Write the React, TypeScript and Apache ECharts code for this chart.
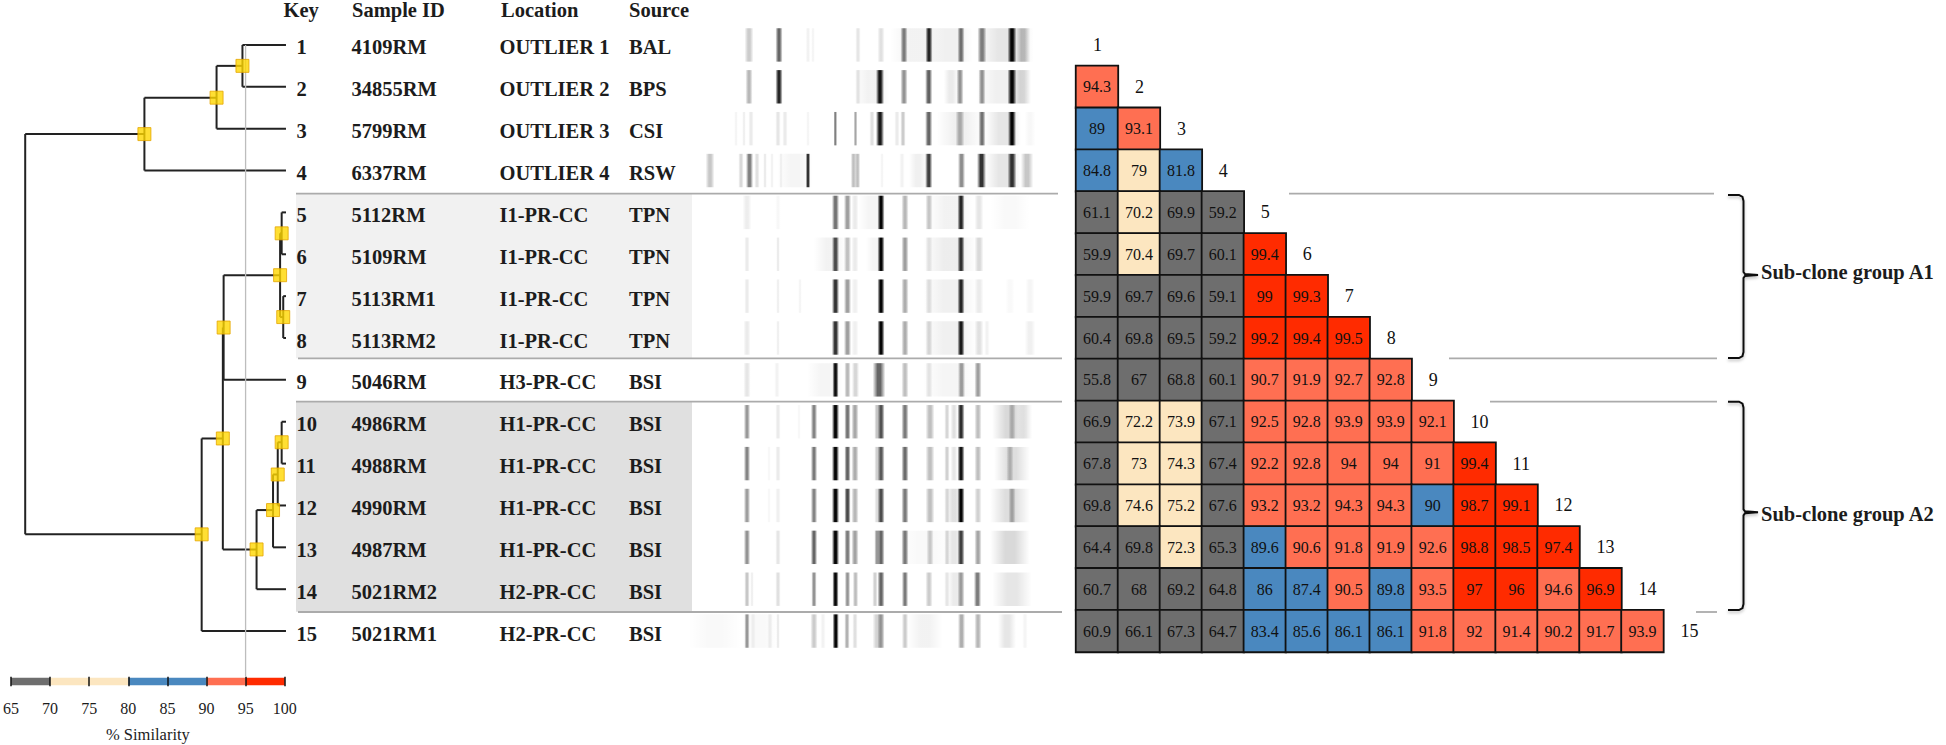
import React, { useEffect, useRef } from "react";
import * as echarts from "echarts";

const SERIF = "Liberation Serif";

const keys = ["1","2","3","4","5","6","7","8","9","10","11","12","13","14","15"];
const sampleIds = ["4109RM","34855RM","5799RM","6337RM","5112RM","5109RM","5113RM1","5113RM2","5046RM","4986RM","4988RM","4990RM","4987RM","5021RM2","5021RM1"];
const locations = ["OUTLIER 1","OUTLIER 2","OUTLIER 3","OUTLIER 4","I1-PR-CC","I1-PR-CC","I1-PR-CC","I1-PR-CC","H3-PR-CC","H1-PR-CC","H1-PR-CC","H1-PR-CC","H1-PR-CC","H2-PR-CC","H2-PR-CC"];
const sources = ["BAL","BPS","CSI","RSW","TPN","TPN","TPN","TPN","BSI","BSI","BSI","BSI","BSI","BSI","BSI"];

// lower triangle of the similarity matrix, row 2 to row 15
const similarity = [
  [94.3],
  [89, 93.1],
  [84.8, 79, 81.8],
  [61.1, 70.2, 69.9, 59.2],
  [59.9, 70.4, 69.7, 60.1, 99.4],
  [59.9, 69.7, 69.6, 59.1, 99, 99.3],
  [60.4, 69.8, 69.5, 59.2, 99.2, 99.4, 99.5],
  [55.8, 67, 68.8, 60.1, 90.7, 91.9, 92.7, 92.8],
  [66.9, 72.2, 73.9, 67.1, 92.5, 92.8, 93.9, 93.9, 92.1],
  [67.8, 73, 74.3, 67.4, 92.2, 92.8, 94, 94, 91, 99.4],
  [69.8, 74.6, 75.2, 67.6, 93.2, 93.2, 94.3, 94.3, 90, 98.7, 99.1],
  [64.4, 69.8, 72.3, 65.3, 89.6, 90.6, 91.8, 91.9, 92.6, 98.8, 98.5, 97.4],
  [60.7, 68, 69.2, 64.8, 86, 87.4, 90.5, 89.8, 93.5, 97, 96, 94.6, 96.9],
  [60.9, 66.1, 67.3, 64.7, 83.4, 85.6, 86.1, 86.1, 91.8, 92, 91.4, 90.2, 91.7, 93.9],
];

const GREY = "#6E6E6E", CREAM = "#FCE6C0", BLUE = "#4A88BF", SALMON = "#FF6F52", RED = "#FF2B00";
const colourBands: [number, number, string][] = [
  [65, 70, GREY], [70, 80, CREAM], [80, 90, BLUE], [90, 95, SALMON], [95, 100, RED],
];
const scaleTicks = [65, 70, 75, 80, 85, 90, 95, 100];

// dendrogram: [id, similarity at the node, row position, child A, child B]; numeric children are leaf rows
const dendroNodes: [string, number, number, string | number, string | number][] = [
  ["n12", 94.6, 1.5, 1, 2],
  ["n123", 91.3, 2.26, "n12", 3],
  ["n1234", 82.1, 3.13, "n123", 4],
  ["F", 99.6, 5.5, 5, 6],
  ["G", 99.8, 7.5, 7, 8],
  ["E", 99.4, 6.5, "F", "G"],
  ["D", 92.2, 7.75, "E", 9],
  ["K", 99.6, 10.49, 10, 11],
  ["J", 99.1, 11.26, "K", 12],
  ["I", 98.5, 12.11, "J", 13],
  ["H", 96.4, 13.05, "I", 14],
  ["C", 92.1, 10.4, "D", "H"],
  ["B", 89.4, 12.69, "C", 15],
  ["root", 66.9, 8, "n1234", "B"],
];
const leafEnd = 100.15;
const cutoff = 95;
const cutoffBottomRow = 16.08;

// gel lanes: each band is [migration position, width, darkness]
const gelLanes: number[][][] = [
  [[917,30,.05],[950,25,.06],[1005,32,.1],[749,5,.2],[779,4,.6],[808,2.5,.05],[813,2,.04],[858,3,.1],[881,4,.12],[904,4,.5],[929,4,.85],[961,4,.55],[982,5,.5],[1012,5,.98],[1023,8,.25]],
  [[872,20,.05],[1003,30,.06],[951,8,.08],[749,4,.28],[779,4,.85],[858,3,.1],[880,4.5,.92],[904,4,.42],[928.7,4,.62],[960,4,.42],[982,4,.42],[1012,5,.98],[1022,10,.15]],
  [[1003,20,.1],[960,26,.06],[736,2,.04],[744,2,.06],[751,3,.08],[778,3,.1],[785,3,.08],[808,2,.04],[835.3,2,.5],[855.5,2,.35],[872,3,.12],[880,4.5,.9],[897,3,.08],[903,3,.2],[928.7,4,.6],[960,5,.3],[982,4,.55],[1012,4.5,.98],[1030,6,.03]],
  [[795,20,.04],[918,10,.06],[1003,20,.1],[710,5,.22],[741,3,.15],[749.5,4,.5],[757,3,.12],[765,2,.08],[772,2,.05],[781,2,.05],[808,2.5,.8],[853.5,3,.25],[857.5,3,.25],[882,2,.04],[902,3,.05],[928.7,4,.75],[961.5,4,.45],[981.5,5,.8],[1012,5,.8],[1027,7,.22]],
  [[950,25,.05],[872,15,.04],[1010,22,.025],[747,5,.07],[778,3,.03],[835.5,4,.55],[847.5,4,.38],[855,4,.08],[881,4,.98],[905,4,.28],[929,4,.22],[961,4,.85],[979,5,.1]],
  [[950,30,.07],[830,18,.05],[875,10,.04],[747,3,.08],[778,2,.08],[835.5,4,.7],[847.5,4,.25],[855,4,.08],[881,4,.98],[905,4,.38],[929,4,.1],[961,4,.8],[979,5,.15]],
  [[950,30,.06],[747,3,.08],[778,2,.06],[800,2,.04],[835.5,4,.8],[847.5,4,.38],[855,4,.06],[881,4,.98],[905,4,.32],[929,4,.12],[961,4,.85],[979,5,.08],[1030,5,.04],[1010,5,.025]],
  [[950,30,.06],[747,4,.08],[778,2,.06],[835.5,4,.8],[847.5,4,.38],[855,4,.06],[881,4,.98],[905,4,.32],[929,4,.15],[961,4,.9],[979,5,.12],[987,3,.05],[1030,6,.06]],
  [[825,20,.04],[950,30,.04],[747,4,.1],[777,3,.05],[835.5,3.5,.95],[847.5,3.5,.28],[855.5,4,.16],[879,7,.6],[905,4,.25],[929,4,.1],[961.5,4,.38],[978,4,.38]],
  [[1010,20,.15],[747,3.5,.4],[778,3,.08],[799,2,.03],[814,3.5,.48],[835.5,4,.98],[847.5,3.5,.55],[855,4,.34],[877,3,.22],[881,4,.68],[905,4,.52],[930,5,.25],[947,3,.16],[954,4,.12],[961,4,.82],[978,4,.25],[1012,4,.22],[1025,8,.08]],
  [[1012,20,.13],[747,3.5,.48],[769,2,.03],[778,3,.08],[814,3.5,.52],[835.5,4,.98],[847.5,3.5,.62],[855,4,.32],[877,3,.18],[881,4,.65],[905,4,.58],[930,5,.25],[947,3,.18],[954,4,.1],[961,4,.92],[978,4,.25],[1010,4,.22]],
  [[1010,22,.13],[747,3.5,.38],[769,2,.03],[778,3,.06],[814,3.5,.48],[835.5,4,.98],[847.5,3.5,.72],[855,4,.28],[877,3,.13],[881,4,.7],[905,4,.52],[930,5,.25],[947,3,.15],[954,8,.12],[961,4,.98],[978,4,.18],[1012,4,.28]],
  [[1010,22,.15],[925,30,.025],[747,3.5,.42],[778,3,.1],[814,3.5,.6],[835.5,4,.98],[847.5,3.5,.52],[855,4,.36],[877,3,.4],[881,4,.6],[905,4,.52],[930,4,.2],[947,3,.15],[954,8,.1],[961,4,.75],[978,4,.35]],
  [[1012,22,.1],[747,3,.22],[752,2,.06],[778,3,.12],[814,3,.42],[835.5,3.5,.98],[847.5,3,.42],[855.5,3,.26],[875,3,.18],[881,4,.6],[905,3.5,.52],[929,4,.2],[947,3,.1],[955,8,.08],[961,4,.38],[977.5,4,.52]],
  [[715,30,.025],[760,20,.025],[925,20,.05],[1007,10,.1],[747,3,.4],[753,3,.05],[770,3,.06],[778,2,.08],[814,4,.2],[823,3,.05],[835.7,3.5,.98],[847,3,.3],[855,3,.12],[877,5,.17],[881,4,.4],[905,3.5,.2],[961.5,4,.32],[978,4,.28],[1025,3,.04]],
];

const headers: [string, number][] = [["Key", 283.5], ["Sample ID", 352], ["Location", 501], ["Source", 629]];
const groupLabels = ["Sub-clone group A1", "Sub-clone group A2"];

function textColumn(values: string[], x: number, fontSize: number, fontWeight: string) {
  return {
    type: "custom", coordinateSystem: "cartesian2d", xAxisIndex: 0, yAxisIndex: 0, silent: true, z: 6,
    data: values.map((_, i) => [x, i + 1]),
    renderItem: (p: any, api: any) => {
      const pt = api.coord([api.value(0), api.value(1)]);
      return {
        type: "text", x: pt[0], y: pt[1] + 2.5,
        style: { text: values[p.dataIndex], fontFamily: SERIF, fontSize, fontWeight, fill: "#1c1c1c", align: "left", verticalAlign: "middle" },
      };
    },
  };
}

function buildOption() {
  const nodeById: Record<string, (typeof dendroNodes)[number]> = {};
  dendroNodes.forEach((n) => (nodeById[n[0]] = n));
  const childPos = (c: string | number): [number, number] =>
    typeof c === "number" ? [leafEnd, c] : [nodeById[c][1], nodeById[c][2]];
  const segments: number[][] = [];
  dendroNodes.forEach((n) => {
    const a = childPos(n[3]), b = childPos(n[4]);
    segments.push([n[1], a[1], n[1], b[1]]);
    segments.push([n[1], a[1], a[0], a[1]]);
    segments.push([n[1], b[1], b[0], b[1]]);
  });

  const cells: number[][] = [];
  similarity.forEach((row, r) => row.forEach((v, c) => cells.push([c, r + 1, v])));

  const bands: number[][] = [];
  gelLanes.forEach((lane, i) => lane.forEach((b) => bands.push([b[0], i + 1, b[1], b[2]])));

  const segmentSeries = (data: number[][], stroke: string, lineWidth: number, z: number) => ({
    type: "custom", coordinateSystem: "cartesian2d", xAxisIndex: 1, yAxisIndex: 1, silent: true, z, data,
    renderItem: (_: any, api: any) => {
      const p = api.coord([api.value(0), api.value(1)]);
      const q = api.coord([api.value(2), api.value(3)]);
      return { type: "line", shape: { x1: p[0], y1: p[1], x2: q[0], y2: q[1] }, style: { stroke, lineWidth } };
    },
  });

  const sep = (x1: number, x2: number, y: number) => ({
    type: "line", z: 1, shape: { x1, y1: y, x2, y2: y }, style: { stroke: "#ABABAB", lineWidth: 1.8 },
  });
  const bracket = (top: number, bottom: number, tip: number) => ({
    type: "polyline", z: 8,
    shape: { points: [[1728, top], [1739, top], [1742.5, top + 2], [1743.5, top + 6], [1743.5, tip - 3], [1745, tip - 1], [1758, tip], [1745, tip + 1], [1743.5, tip + 3], [1743.5, bottom - 6], [1742.5, bottom - 2], [1739, bottom], [1728, bottom]] },
    style: { stroke: "#111", lineWidth: 2, fill: "none", shadowBlur: 3, shadowOffsetY: 2, shadowColor: "rgba(0,0,0,0.25)" },
  });
  const bg = (y: number, h: number, fill: string) => ({
    type: "rect", z: 0, shape: { x: 296, y, width: 396, height: h }, style: { fill },
  });
  const sideText = (text: string, y: number) => ({
    type: "text", z: 9, x: 1761, y,
    style: { text, fontFamily: SERIF, fontSize: 20.5, fontWeight: "bold", fill: "#1c1c1c", align: "left", verticalAlign: "middle" },
  });

  return {
    animation: false,
    backgroundColor: "#ffffff",
    grid: [
      { left: 0, top: 24, width: 1946, height: 628 },
      { left: 10.3, top: 24, width: 274.5, height: 628 },
      { left: 1076, top: 24, width: 629.4, height: 628 },
      { left: 10.3, top: 676.7, width: 274.5, height: 9.5 },
    ],
    xAxis: [
      { gridIndex: 0, type: "value", min: 0, max: 1946, show: false },
      { gridIndex: 1, type: "value", min: 65, max: 100, show: false },
      { gridIndex: 2, type: "category", data: keys, show: false },
      {
        gridIndex: 3, type: "value", min: 65, max: 100, interval: 5, z: 5,
        axisLine: { show: false },
        axisTick: { show: true, inside: true, length: 9.5, lineStyle: { color: "#111", width: 1.5 } },
        splitLine: { show: false },
        axisLabel: {
          margin: 14, fontFamily: SERIF, fontSize: 16, color: "#1c1c1c",
          formatter: (v: number) => (scaleTicks.includes(v) ? String(v) : ""),
        },
        name: "% Similarity", nameLocation: "middle", nameGap: 40,
        nameTextStyle: { fontFamily: SERIF, fontSize: 16.5, color: "#1c1c1c" },
      },
    ],
    yAxis: [
      { gridIndex: 0, type: "value", min: 0.5, max: 15.5, inverse: true, show: false },
      { gridIndex: 1, type: "value", min: 0.5, max: 15.5, inverse: true, show: false },
      { gridIndex: 2, type: "category", data: keys, inverse: true, show: false },
      { gridIndex: 3, type: "value", min: 0, max: 1, show: false },
    ],
    visualMap: {
      show: false, type: "piecewise", seriesIndex: 0, dimension: 2,
      pieces: [
        { gt: 0, lte: 70, color: GREY },
        { gt: 70, lte: 80, color: CREAM },
        { gt: 80, lte: 90, color: BLUE },
        { gt: 90, lte: 95, color: SALMON },
        { gt: 95, lte: 100, color: RED },
      ],
    },
    series: [
      {
        type: "heatmap", xAxisIndex: 2, yAxisIndex: 2, data: cells, silent: true, z: 3,
        itemStyle: { borderColor: "#111", borderWidth: 1.8 },
        label: {
          show: true, fontFamily: SERIF, fontSize: 16, color: "#111",
          formatter: (p: any) => String(p.value[2]),
        },
        emphasis: { disabled: true },
      },
      {
        type: "custom", coordinateSystem: "cartesian2d", xAxisIndex: 2, yAxisIndex: 2, silent: true, z: 4,
        data: keys.map((_, i) => [i, i]),
        renderItem: (p: any, api: any) => {
          const pt = api.coord([api.value(0), api.value(1)]);
          return {
            type: "text", x: pt[0] - 4, y: pt[1],
            style: { text: keys[p.dataIndex], fontFamily: SERIF, fontSize: 18, fill: "#111", align: "left", verticalAlign: "middle" },
          };
        },
      },
      {
        type: "custom", coordinateSystem: "cartesian2d", xAxisIndex: 0, yAxisIndex: 0, silent: true, z: 2,
        data: bands,
        renderItem: (_: any, api: any) => {
          const x = api.value(0), d = api.value(3);
          const w = api.value(2) * 1.8;
          const c = api.coord([x, api.value(1)]);
          const col = (a: number) => `rgba(0,0,0,${a})`;
          return {
            type: "rect",
            shape: { x: c[0] - w / 2, y: c[1] - 16.7, width: w, height: 33.4 },
            style: {
              fill: new echarts.graphic.LinearGradient(0, 0, 1, 0, [
                { offset: 0, color: col(0) },
                { offset: 0.38, color: col(d) },
                { offset: 0.62, color: col(d) },
                { offset: 1, color: col(0) },
              ]),
            },
          };
        },
      },
      textColumn(keys, 296.5, 20.5, "bold"),
      textColumn(sampleIds, 351.5, 20.5, "bold"),
      textColumn(locations, 499.5, 20.5, "bold"),
      textColumn(sources, 629, 20.5, "bold"),
      segmentSeries(segments, "#222", 2, 4),
      segmentSeries([[cutoff, 1, cutoff, cutoffBottomRow]], "#BDBDBD", 1.3, 5),
      {
        type: "scatter", xAxisIndex: 1, yAxisIndex: 1, silent: true, z: 7,
        symbol: "rect", symbolSize: 13,
        itemStyle: { color: "#FFD700", borderColor: "#E5A500", borderWidth: 1 },
        data: dendroNodes.filter((n) => n[0] !== "root").map((n) => [n[1], n[2]]),
      },
      {
        type: "custom", coordinateSystem: "cartesian2d", xAxisIndex: 3, yAxisIndex: 3, silent: true, z: 2,
        data: colourBands.map((b) => [b[0], b[1]]),
        renderItem: (p: any, api: any) => {
          const a = api.coord([api.value(0), 0.9]);
          const b = api.coord([api.value(1), 0.1]);
          return {
            type: "rect",
            shape: { x: a[0], y: a[1], width: b[0] - a[0], height: b[1] - a[1] },
            style: { fill: colourBands[p.dataIndex][2] },
          };
        },
      },
    ],
    graphic: {
      elements: [
        bg(193.7, 164.6, "#F1F1F1"),
        bg(401.7, 210, "#E0E0E0"),
        sep(296, 1058, 193.7), sep(1289, 1714, 193.7),
        sep(298, 1062, 358.3), sep(1449, 1717, 358.3),
        sep(296, 1062, 401.7), sep(1490, 1717, 401.7),
        sep(298, 1062, 612), sep(1696, 1717, 612),
        bracket(195, 358, 275),
        bracket(401.7, 610, 512.3),
        sideText(groupLabels[0], 272),
        sideText(groupLabels[1], 514),
        ...headers.map(([text, x]) => ({
          type: "text", z: 9, x, y: 10,
          style: { text, fontFamily: SERIF, fontSize: 20.5, fontWeight: "bold", fill: "#1c1c1c", align: "left", verticalAlign: "middle" },
        })),
      ],
    },
  };
}

export default function App() {
  const ref = useRef<HTMLDivElement>(null);
  useEffect(() => {
    const chart = echarts.init(ref.current!, undefined, { renderer: "svg" });
    chart.setOption(buildOption() as any);
    return () => chart.dispose();
  }, []);
  return <div ref={ref} style={{ position: "absolute", left: 0, top: 0, width: 1946, height: 745 }} />;
}
